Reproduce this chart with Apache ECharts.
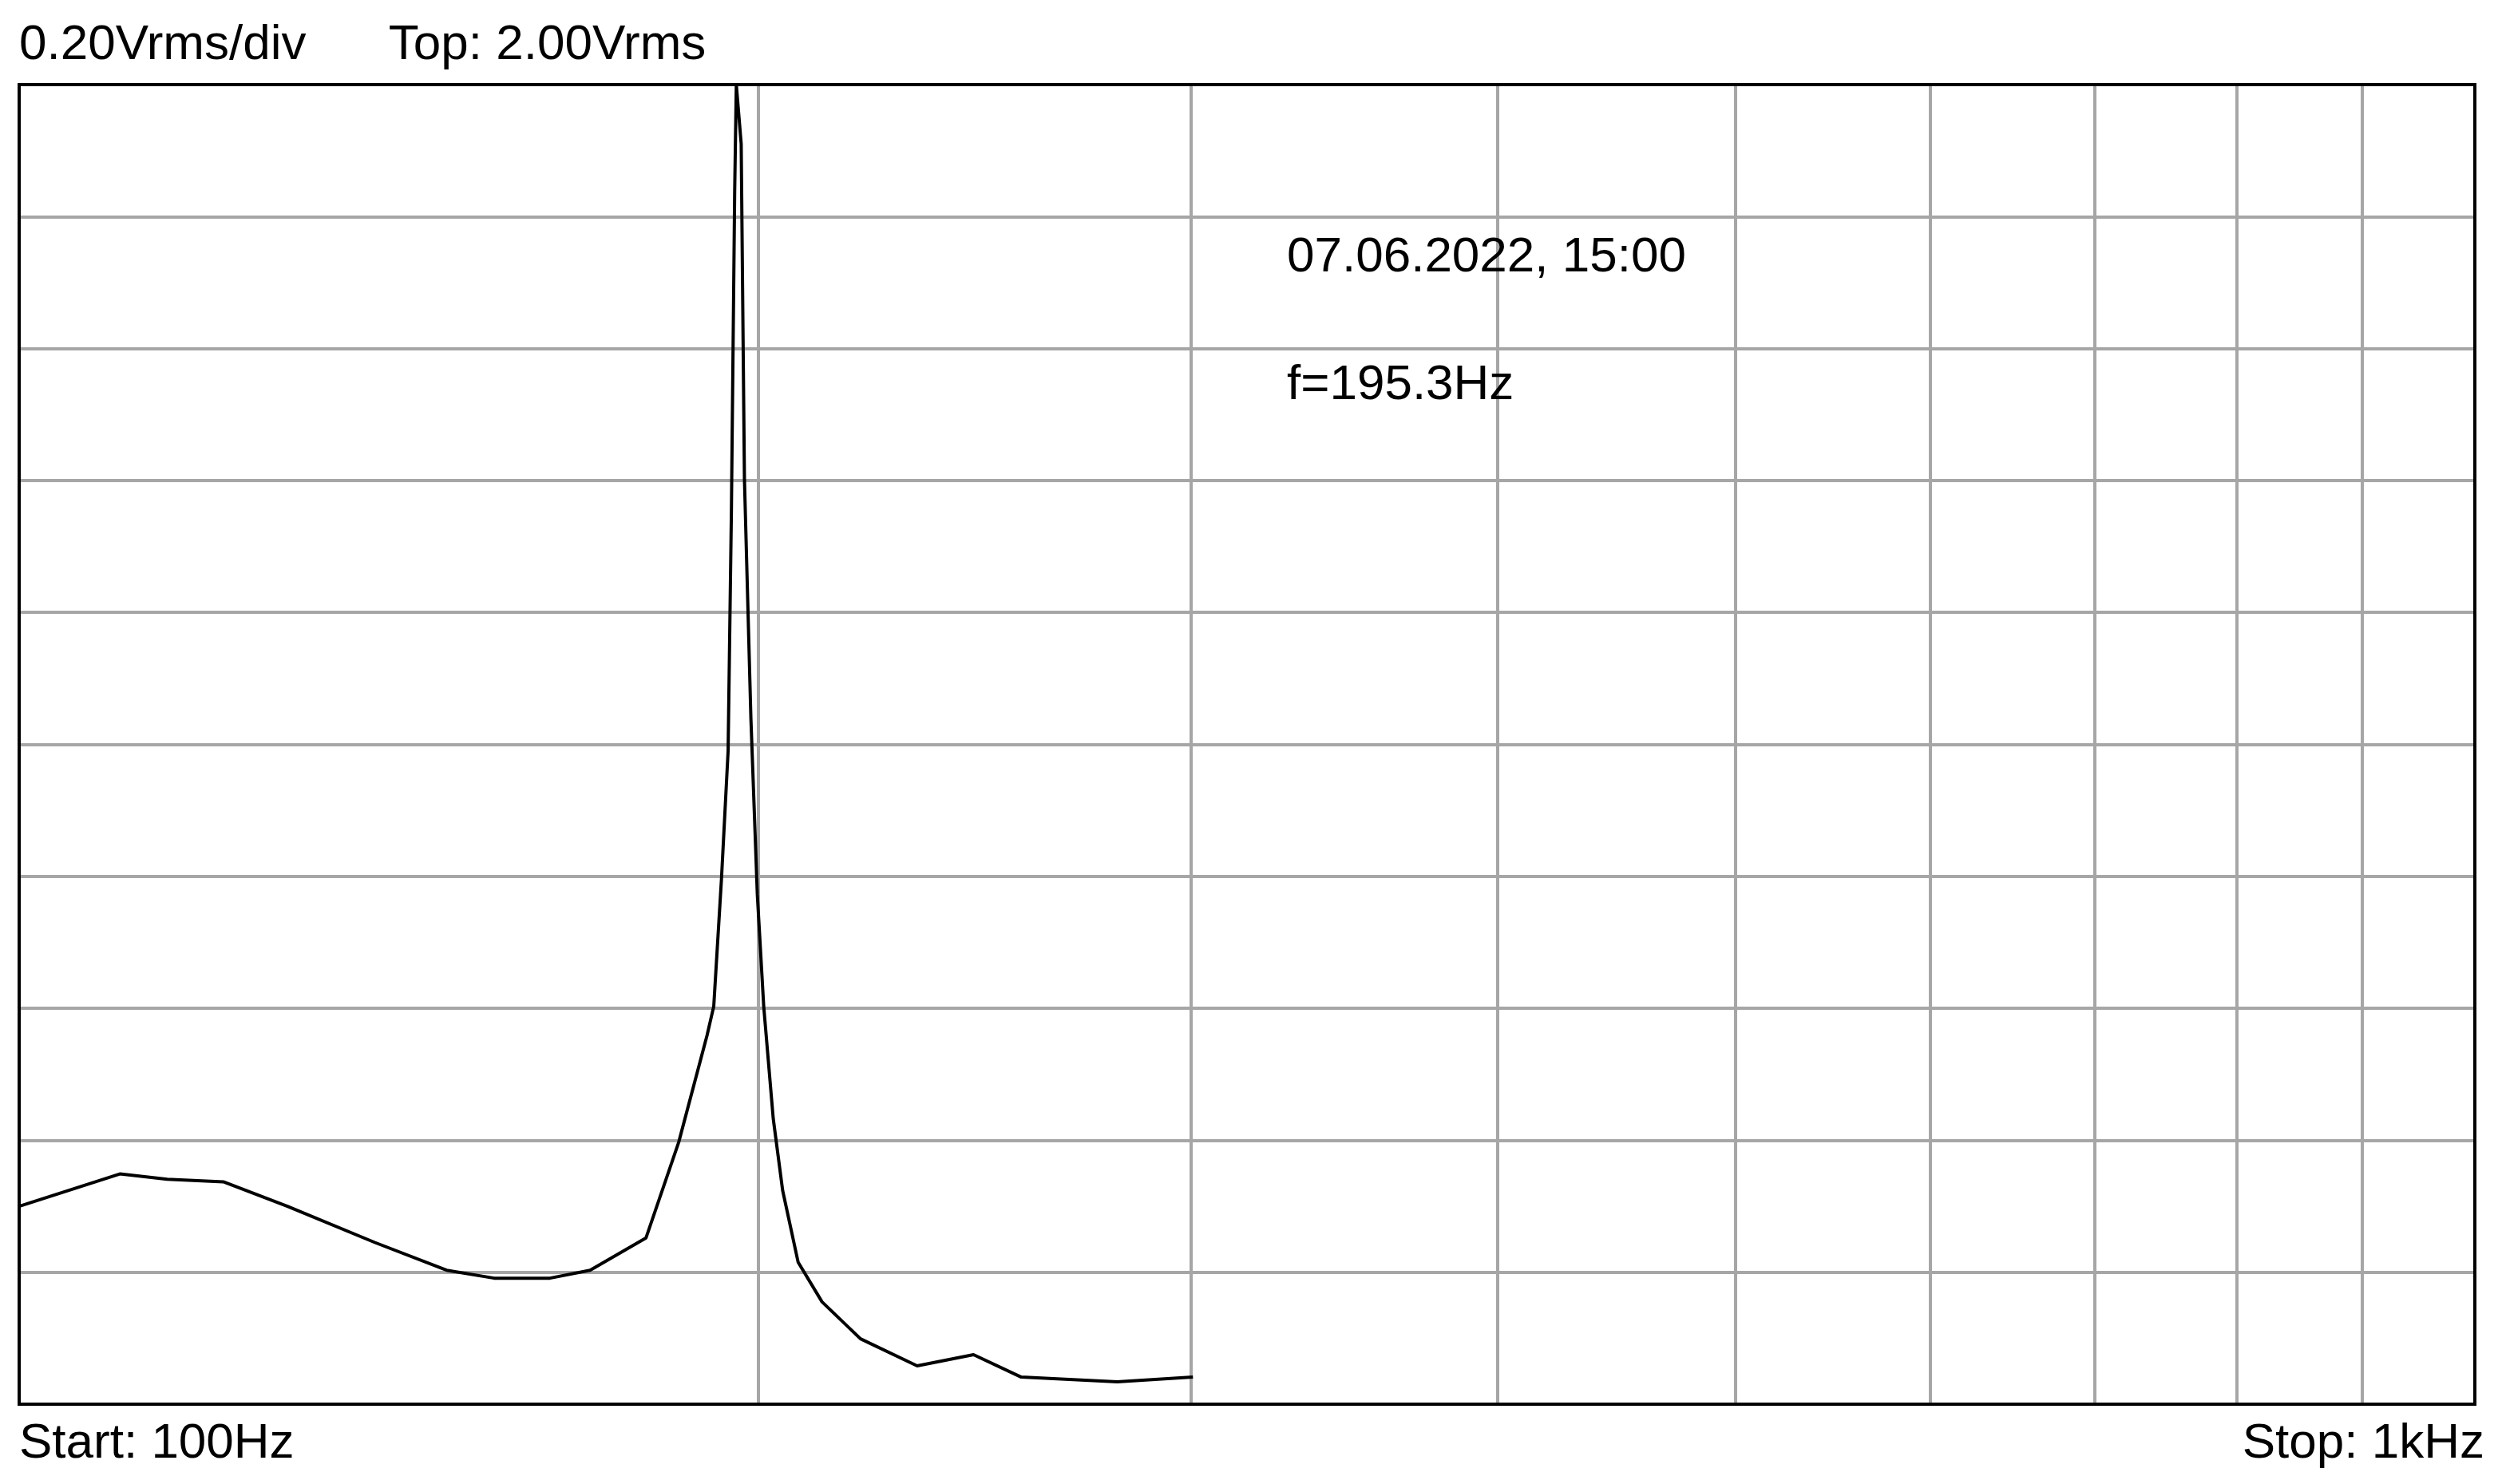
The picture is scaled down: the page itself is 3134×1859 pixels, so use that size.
<!DOCTYPE html>
<html><head><meta charset="utf-8">
<script src="https://cdn.jsdelivr.net/npm/echarts@6/dist/echarts.min.js"></script>
<style>html,body{margin:0;background:#fff}#c{width:3134px;height:1859px}</style>
</head><body><div id="c"></div>
<script>
const freqHz = [100,109.9,114.9,121.1,128.6,139.6,149.3,156.1,164.5,170.8,180.0,185.6,190.6,191.8,193.2,194.4,195.0,195.6,195.9,196.8,197.4,198.6,199.8,201.0,202.8,204.6,207.6,212.3,220.1,232.1,244.7,255.9,280.0,300.6];
const vrms = [0.300,0.349,0.341,0.337,0.300,0.245,0.203,0.191,0.191,0.203,0.252,0.397,0.559,0.603,0.797,0.990,1.353,1.838,2.0,1.910,1.402,1.039,0.772,0.603,0.433,0.324,0.215,0.155,0.099,0.058,0.075,0.041,0.034,0.041];
const gridFreqs = [200,300,400,500,600,700,800,900];
const topLabel = '0.20Vrms/div      Top: 2.00Vrms';
const startLabel = 'Start: 100Hz', stopLabel = 'Stop: 1kHz';
const dateLabel = '07.06.2022, 15:00', fLabel = 'f=195.3Hz';

const font = '"Liberation Sans", Arial, sans-serif';
const L=24, R=34, T=106, B=100, W=3134, H=1859;
const chart = echarts.init(document.getElementById('c'));
chart.setOption({
  backgroundColor:'#fff', animation:false,
  grid:{left:L,right:R,top:T,bottom:B},
  xAxis:{type:'log',logBase:10,min:100,max:1000,axisLine:{show:false},axisTick:{show:false},axisLabel:{show:false},splitLine:{show:false}},
  yAxis:{type:'value',min:0,max:2,interval:0.2,axisLine:{show:false},axisTick:{show:false},axisLabel:{show:false},
    splitLine:{lineStyle:{color:'#a6a6a6',width:4}}},
  series:[{type:'line',data:freqHz.map((f,i)=>[f,vrms[i]]),symbol:'none',
    lineStyle:{color:'#000',width:4},z:5,
    markLine:{silent:true,symbol:'none',label:{show:false},lineStyle:{color:'#a6a6a6',width:4,type:'solid'},
      data:gridFreqs.map(f=>({xAxis:f}))}}],
  graphic:[
    {type:'rect',z:100,shape:{x:L,y:T,width:W-L-R,height:H-T-B},style:{fill:'none',stroke:'#000',lineWidth:4}},
    {type:'text',left:24,top:26,style:{text:topLabel,font:'62px '+font,fill:'#000'}},
    {type:'text',left:24,top:1778,style:{text:startLabel,font:'62px '+font,fill:'#000'}},
    {type:'text',right:22,top:1778,style:{text:stopLabel,font:'62px '+font,fill:'#000'}},
    {type:'text',left:1612,top:292,z:10,style:{text:dateLabel,font:'62px '+font,fill:'#000'}},
    {type:'text',left:1612,top:452,z:10,style:{text:fLabel,font:'62px '+font,fill:'#000'}}
  ]
});
</script></body></html>
